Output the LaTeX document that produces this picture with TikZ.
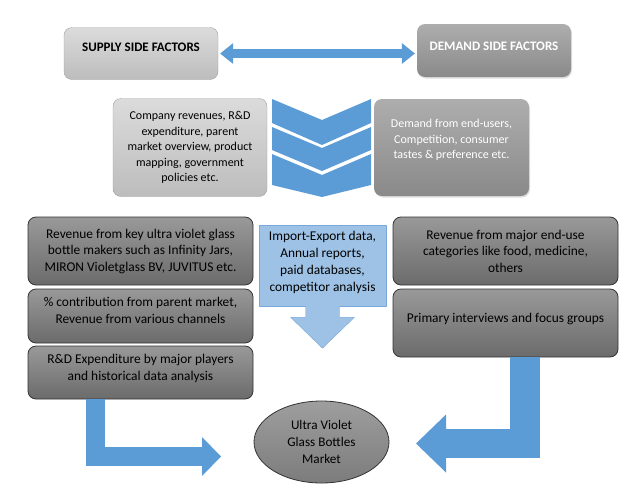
\documentclass[tikz,border=0pt]{standalone}
\usepackage{fontspec}
\setmainfont{Carlito}
\usetikzlibrary{arrows.meta,shapes.geometric,shadows}
\definecolor{wwbbdd}{rgb}{0.36,0.61,0.84}
\definecolor{aaccee}{rgb}{0.62,0.76,0.9}
\definecolor{uuaadd}{rgb}{0.48,0.66,0.86}
\definecolor{ddddzz}{rgb}{0.86,0.86,0.86}
\definecolor{bbbbzz}{rgb}{0.74,0.74,0.74}
\definecolor{aaaazz}{rgb}{0.68,0.68,0.68}
\definecolor{ppppzz}{rgb}{0.54,0.54,0.54}
\definecolor{qqqqtt}{rgb}{0.6,0.6,0.6}
\definecolor{qqqqzz}{rgb}{0.42,0.42,0.42}
\definecolor{uuuuqq}{rgb}{0.2,0.2,0.2}

\begin{document}
\begin{tikzpicture}[line cap=round,line join=round,x=1pt,y=-1pt,
  lbox/.style={rounded corners=8pt,draw=ppppzz!80,top color=ddddzz,bottom color=bbbbzz,align=center,font=\fontsize{12}{15.5}\selectfont},
  dbox/.style={rounded corners=8pt,draw=none,top color=aaaazz,bottom color=ppppzz,text=white,align=center,drop shadow={opacity=0.25,shadow xshift=1pt,shadow yshift=-1.5pt},font=\fontsize{12}{15.5}\selectfont},
  gbox/.style={rounded corners=8pt,draw=uuuuqq,thick,top color=qqqqtt,bottom color=qqqqzz,align=center,minimum width=225pt,font=\fontsize{13.4}{16.5}\selectfont},
  barrow/.style={draw=wwbbdd,line cap=butt,line join=miter}]
\clip(0,0) rectangle (642,501);
% top row
\node[lbox,minimum width=154pt,minimum height=52pt,text depth=12pt,font=\bfseries\fontsize{13}{15}\selectfont] (sup) at (141,53.5) {SUPPLY SIDE FACTORS};
\node[dbox,minimum width=154pt,minimum height=53pt,text depth=9pt,font=\bfseries\fontsize{13}{15}\selectfont] (dem) at (494,50.5) {DEMAND SIDE FACTORS};
\draw[barrow,line width=9pt,{Triangle[width=21pt,length=13pt,line width=0pt]}-{Triangle[width=21pt,length=13pt,line width=0pt]},shorten <=2pt,shorten >=2pt] (sup.east) -- (sup.east -| dem.west);
% second row
\node[lbox,minimum width=154pt,minimum height=98pt] (comp) at (190,147.5) {Company revenues, R\&D\\expenditure, parent\\market overview, product\\mapping, government\\policies etc.};
\node[dbox,minimum width=155pt,minimum height=97pt,text depth=17pt] (dem2) at (451.5,147.5) {Demand from end-users,\\Competition, consumer\\tastes \& preference etc.};
\fill[wwbbdd] (272,99) -- (322,120) -- (371,99) -- (371,123) -- (322,145) -- (272,123) -- cycle;
\fill[wwbbdd] (272,127) -- (322,148) -- (371,127) -- (371,150) -- (322,171) -- (272,150) -- cycle;
\fill[wwbbdd] (272,154) -- (322,175) -- (371,154) -- (371,185) -- (322,197) -- (272,185) -- cycle;
% lower part
\node[gbox,minimum height=68pt] (rev) at (140.5,251) {Revenue from key ultra violet glass\\bottle makers such as Infinity Jars,\\MIRON Violetglass BV, JUVITUS etc.};
\node[gbox,minimum height=54pt,text depth=11pt] (pct) at (140.5,316) {\% contribution from parent market,\\Revenue from various channels};
\node[gbox,minimum height=53pt,text depth=10pt] (rnd) at (140.5,372.5) {R\&D Expenditure by major players\\and historical data analysis};
\node[gbox,minimum height=68pt] (enduse) at (505.5,251) {Revenue from major end-use\\categories like food, medicine,\\others};
\node[gbox,minimum height=68pt,text depth=11pt] (prim) at (505.5,323) {Primary interviews and focus groups};
\node[draw=uuaadd,fill=aaccee,minimum width=127pt,minimum height=81pt,text depth=9pt,align=center,font=\fontsize{13.4}{17}\selectfont] (imp) at (322.5,265.5) {Import-Export data,\\Annual reports,\\paid databases,\\competitor analysis};
\draw[draw=uuaadd,fill=aaccee] ([xshift=-17pt]imp.south) -- ++(0,11) -- ++(-15,0) -- ++(32,31) -- ++(32,-31) -- ++(-15,0) -- ++(0,-11);
\node[ellipse,draw=uuuuqq,thick,top color=qqqqtt!95,bottom color=ppppzz!90!black,minimum width=135pt,minimum height=82pt,align=center,font=\fontsize{13.2}{17}\selectfont] (ell) at (321.5,442) {Ultra Violet\\Glass Bottles\\Market};
\coordinate (la) at (221,456.5);
\coordinate (ra) at (416,443.5);
\draw[barrow,line width=19pt,-{Triangle[width=39pt,length=19pt,line width=0pt]}] ([xshift=-45pt]rnd.south) |- (la);
\draw[barrow,line width=29.5pt,-{Triangle[width=58pt,length=30pt,line width=0pt]}] ([xshift=19.5pt]prim.south) |- (ra);
\end{tikzpicture}
\end{document}
